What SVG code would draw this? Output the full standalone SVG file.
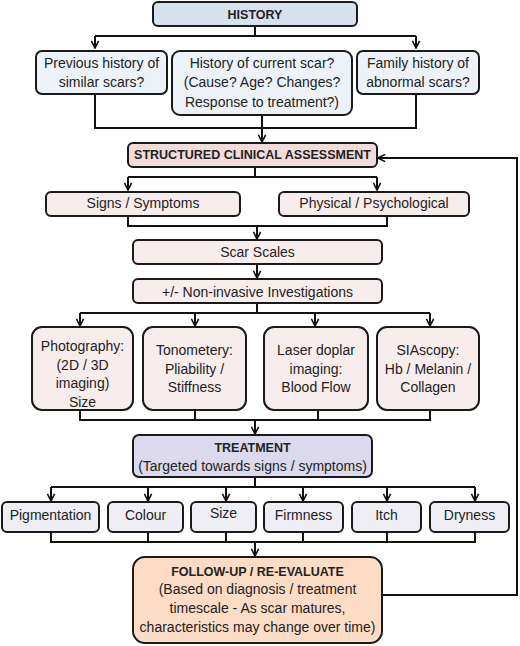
<svg xmlns="http://www.w3.org/2000/svg" width="520" height="646" viewBox="0 0 520 646">
<defs>
<marker id="ah" viewBox="0 0 10 10" refX="9" refY="5" markerWidth="9" markerHeight="9" markerUnits="userSpaceOnUse" orient="auto">
<path d="M1,1 L9,5 L1,9" fill="none" stroke="#111" stroke-width="1.8"/>
</marker>
<style>
.b{stroke:#1a1a1a;stroke-width:2}
.t{font-family:"Liberation Sans",Arial,sans-serif;font-size:14px;fill:#222;text-anchor:middle}
.h{font-family:"Liberation Sans",Arial,sans-serif;font-size:12.5px;font-weight:bold;fill:#222;text-anchor:middle}
.c{fill:none;stroke:#111;stroke-width:2}
.blue1{fill:#d7e1ee}.blue2{fill:#edf2f8}
.pink1{fill:#f2dbdb}.pink2{fill:#f8eded}
.lav1{fill:#dcd9ec}.lav2{fill:#efeef5}
.peach{fill:#fcdcc4}
</style>
</defs>
<rect width="520" height="646" fill="#fff"/>
<g id="connectors">
<path class="c" d="M255,26 V36 M95,36 H416 M95,36 V48" marker-end="url(#ah)"/>
<path class="c" d="M416,36 V48" marker-end="url(#ah)"/>
<path class="c" d="M95,94 V128 H416 V94 M262,115 V142" marker-end="url(#ah)"/>
<path class="c" d="M255,167 V177 M128,177 H377 M128,177 V190" marker-end="url(#ah)"/>
<path class="c" d="M377,177 V190" marker-end="url(#ah)"/>
<path class="c" d="M128,216 V226 H387 V216 M257,226 V239" marker-end="url(#ah)"/>
<path class="c" d="M257,264 V278" marker-end="url(#ah)"/>
<path class="c" d="M257,303 V313 M80,313 H430 M80,313 V326" marker-end="url(#ah)"/>
<path class="c" d="M195,313 V326" marker-end="url(#ah)"/>
<path class="c" d="M315,313 V326" marker-end="url(#ah)"/>
<path class="c" d="M430,313 V326" marker-end="url(#ah)"/>
<path class="c" d="M80,410 V420 H430 V410 M195,410 V420 M318,410 V420 M255,420 V434" marker-end="url(#ah)"/>
<path class="c" d="M255,477 V487 M51,487 H475 M51,487 V501" marker-end="url(#ah)"/>
<path class="c" d="M148,487 V501" marker-end="url(#ah)"/>
<path class="c" d="M226,487 V501" marker-end="url(#ah)"/>
<path class="c" d="M303,487 V501" marker-end="url(#ah)"/>
<path class="c" d="M387,487 V501" marker-end="url(#ah)"/>
<path class="c" d="M475,487 V501" marker-end="url(#ah)"/>
<path class="c" d="M51,532 V542 H475 V532 M148,532 V542 M226,532 V542 M303,532 V542 M387,532 V542 M255,542 V556" marker-end="url(#ah)"/>
<path class="c" d="M382,595 H517 V158 H378" marker-end="url(#ah)"/>
</g>
<g id="history"><rect class="b blue1" x="153" y="2" width="204" height="24" rx="5"/><text class="h" x="255" y="19">HISTORY</text></g>
<g id="previous"><rect class="b blue2" x="36" y="51" width="131" height="43" rx="6"/><text class="t" x="101.5" y="68">Previous history of</text><text class="t" x="101.5" y="87">similar scars?</text></g>
<g id="current"><rect class="b blue2" x="172" y="51" width="180" height="64" rx="8"/><text class="t" x="262" y="68">History of current scar?</text><text class="t" x="262" y="87">(Cause? Age? Changes?</text><text class="t" x="262" y="107">Response to treatment?)</text></g>
<g id="family"><rect class="b blue2" x="357" y="51" width="122" height="43" rx="6"/><text class="t" x="418" y="68">Family history of</text><text class="t" x="418" y="87">abnormal scars?</text></g>
<g id="assessment"><rect class="b pink1" x="128" y="143" width="249" height="24" rx="5"/><text class="h" x="252.5" y="159">STRUCTURED CLINICAL ASSESSMENT</text></g>
<g id="signs"><rect class="b pink2" x="46" y="192" width="194" height="24" rx="5"/><text class="t" x="143" y="208">Signs / Symptoms</text></g>
<g id="physical"><rect class="b pink2" x="279" y="192" width="190" height="24" rx="5"/><text class="t" x="374" y="208">Physical / Psychological</text></g>
<g id="scales"><rect class="b pink2" x="133" y="240" width="249" height="24" rx="5"/><text class="t" x="257.5" y="257">Scar Scales</text></g>
<g id="noninvasive"><rect class="b pink2" x="133" y="279" width="249" height="24" rx="5"/><text class="t" x="257.5" y="297">+/- Non-invasive Investigations</text></g>
<g id="photography"><rect class="b pink2" x="32" y="327" width="101" height="83" rx="10"/><text class="t" x="82.5" y="351">Photography:</text><text class="t" x="82.5" y="370">(2D / 3D</text><text class="t" x="82.5" y="388">imaging)</text><text class="t" x="82.5" y="407">Size</text></g>
<g id="tonometery"><rect class="b pink2" x="143" y="327" width="103" height="83" rx="10"/><text class="t" x="194.5" y="355">Tonometery:</text><text class="t" x="194.5" y="374">Pliability /</text><text class="t" x="194.5" y="392">Stiffness</text></g>
<g id="laser"><rect class="b pink2" x="264" y="327" width="104" height="83" rx="10"/><text class="t" x="316" y="355">Laser doplar</text><text class="t" x="316" y="374">imaging:</text><text class="t" x="316" y="392">Blood Flow</text></g>
<g id="siascopy"><rect class="b pink2" x="377" y="327" width="102" height="83" rx="10"/><text class="t" x="428" y="355">SIAscopy:</text><text class="t" x="428" y="374">Hb / Melanin /</text><text class="t" x="428" y="392">Collagen</text></g>
<g id="treatment"><rect class="b lav1" x="133" y="435" width="239" height="42" rx="6"/><text class="h" x="252.5" y="452">TREATMENT</text><text class="t" x="252.5" y="471">(Targeted towards signs / symptoms)</text></g>
<g id="pigmentation"><rect class="b lav2" x="2" y="502" width="97" height="30" rx="5"/><text class="t" x="50.5" y="520">Pigmentation</text></g>
<g id="colour"><rect class="b lav2" x="108" y="502" width="75" height="30" rx="5"/><text class="t" x="145.5" y="520">Colour</text></g>
<g id="size"><rect class="b lav2" x="191" y="502" width="65" height="30" rx="5"/><text class="t" x="223.5" y="518">Size</text></g>
<g id="firmness"><rect class="b lav2" x="264" y="502" width="79" height="30" rx="5"/><text class="t" x="303.5" y="520">Firmness</text></g>
<g id="itch"><rect class="b lav2" x="352" y="502" width="69" height="30" rx="5"/><text class="t" x="386.5" y="520">Itch</text></g>
<g id="dryness"><rect class="b lav2" x="430" y="502" width="79" height="30" rx="5"/><text class="t" x="469.5" y="520">Dryness</text></g>
<g id="followup"><rect class="b peach" x="133" y="557" width="249" height="86" rx="12"/><text class="h" x="257.5" y="576">FOLLOW-UP / RE-EVALUATE</text><text class="t" x="257.5" y="594">(Based on diagnosis / treatment</text><text class="t" x="257.5" y="613">timescale - As scar matures,</text><text class="t" x="257.5" y="632">characteristics may change over time)</text></g>
</svg>
